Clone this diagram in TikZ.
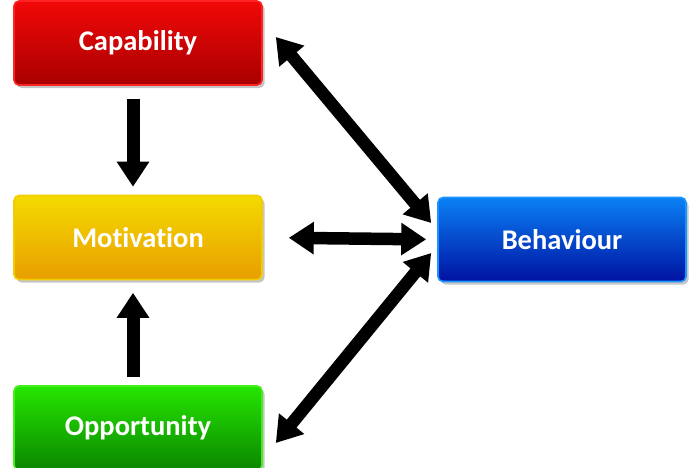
\documentclass[tikz,border=0pt]{standalone}
\usepackage{fontspec}
\setsansfont[Ligatures=NoCommon]{Carlito}
\usetikzlibrary{arrows.meta,shadows,calc}
\definecolor{capT}{HTML}{F20808}
\definecolor{capB}{HTML}{A80000}
\definecolor{capL}{HTML}{FF2424}
\definecolor{motT}{HTML}{F4DA00}
\definecolor{motB}{HTML}{E89E00}
\definecolor{motL}{HTML}{F2CC00}
\definecolor{oppT}{HTML}{26E600}
\definecolor{oppB}{HTML}{0A8600}
\definecolor{oppL}{HTML}{44F018}
\definecolor{behT}{HTML}{0A80F4}
\definecolor{behB}{HTML}{0012A2}
\definecolor{behL}{HTML}{1A94FF}
\tikzset{
  tile/.style={rectangle, rounded corners=5pt, line width=1.6pt, inner sep=0pt,
    minimum width=248pt, minimum height=84pt, text=white,
    font=\sffamily\bfseries\fontsize{28.5}{31}\selectfont,
    drop shadow={opacity=0.45, shadow xshift=2.5pt, shadow yshift=-3pt}},
  capbox/.style={tile, draw=capL, top color=capT, bottom color=capB},
  motbox/.style={tile, draw=motL, top color=motT, bottom color=motB},
  oppbox/.style={tile, draw=oppL, top color=oppT, bottom color=oppB},
  behbox/.style={tile, draw=behL, top color=behT, bottom color=behB},
  link/.style={-{Triangle[width=31pt, length=25pt]}, line width=13pt},
  dlink/.style={{Triangle[width=31pt, length=25pt]}-{Triangle[width=31pt, length=25pt]}, line width=12.5pt},
}

\begin{document}
\begin{tikzpicture}[x=1pt, y=-1pt]
  \useasboundingbox (0,0) rectangle (692,467);
  \node[capbox] (cap) at (138,43) {Capability};
  \node[motbox] (mot) at (138,237.5) {Motivation};
  \node[oppbox] (opp) at (138,428) {Opportunity};
  \node[behbox] (beh) at (562,239.5) {Behaviour};
  \draw[link, shorten <=13pt, shorten >=8pt] ([xshift=-5pt]cap.south) -- ([xshift=-5pt]mot.north);
  \draw[link, shorten <=8pt, shorten >=12.5pt] ([xshift=-5pt]opp.north) -- ([xshift=-5pt]mot.south);
  \draw[dlink, shorten <=26pt, shorten >=11pt] (mot.east) -- (beh.west);
  \draw[dlink] ($(cap.east)+(13,-6)$) -- ($(beh.west)+(-6,-16.5)$);
  \draw[dlink] ($(opp.east)+(13,15)$) -- ($(beh.west)+(-6,13.5)$);
\end{tikzpicture}
\end{document}
